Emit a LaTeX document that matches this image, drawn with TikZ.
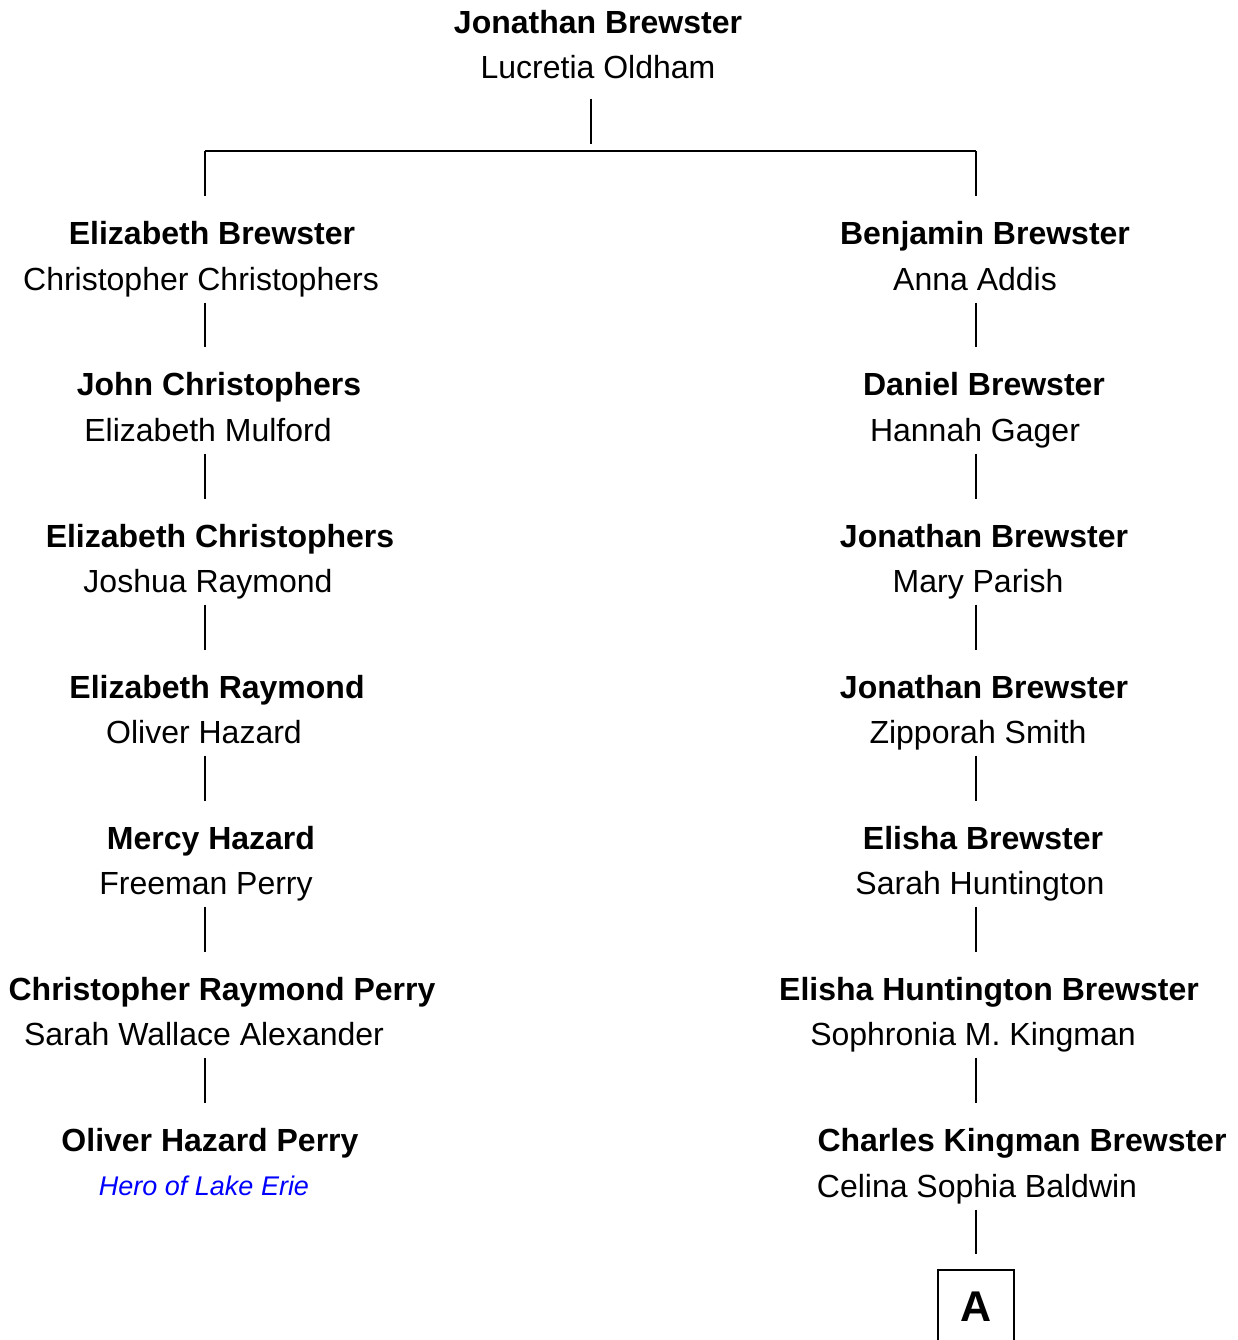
\documentclass[tikz,border=0pt]{standalone}
\usepackage{fontspec}
\setmainfont{Liberation Sans}
\usetikzlibrary{positioning}

\begin{document}
\begin{tikzpicture}[x=1pt,y=-1pt,
      every node/.style={inner sep=0pt,text height=23pt,text depth=0pt,
        font=\fontsize{32}{38}\selectfont},
      kin/.style={font=\fontsize{32}{38}\selectfont\bfseries},
      note/.style={font=\fontsize{27}{32}\selectfont\itshape,text=blue,text height=19pt},
      link/.style={line width=1.5pt,shorten <=12pt,shorten >=25pt}]
      \clip (0,0) rectangle (1238,1340);
      % top couple
      \node[kin] (k_0) at (598,22) {Jonathan Brewster};
      \node      (s_0) at (598,67) {Lucretia Oldham};
      \coordinate (mid)  at (591,151);
      \coordinate (lcol) at (205,151);
      \coordinate (rcol) at (976,151);
      % left line
      \node[kin] (l_1)  at (212,233)  {Elizabeth Brewster};
      \node      (ls_1) at (201,279)  {Christopher Christophers};
      \node[kin] (l_2)  at (219,384)  {John Christophers};
      \node      (ls_2) at (208,430)  {Elizabeth Mulford};
      \node[kin] (l_3)  at (220,536)  {Elizabeth Christophers};
      \node      (ls_3) at (208,581)  {Joshua Raymond};
      \node[kin] (l_4)  at (217,687)  {Elizabeth Raymond};
      \node      (ls_4) at (204,732)  {Oliver Hazard};
      \node[kin] (l_5)  at (211,838)  {Mercy Hazard};
      \node      (ls_5) at (206,883)  {Freeman Perry};
      \node[kin] (l_6)  at (222,989)  {Christopher Raymond Perry};
      \node      (ls_6) at (204,1034) {Sarah Wallace Alexander};
      \node[kin] (l_7)  at (210,1140) {Oliver Hazard Perry};
      \node[note] (ln_7) at (204,1186) {Hero of Lake Erie};
      % right line
      \node[kin] (r_1)  at (985,233)  {Benjamin Brewster};
      \node      (rs_1) at (975,279)  {Anna Addis};
      \node[kin] (r_2)  at (984,384)  {Daniel Brewster};
      \node      (rs_2) at (975,430)  {Hannah Gager};
      \node[kin] (r_3)  at (984,536)  {Jonathan Brewster};
      \node      (rs_3) at (978,581)  {Mary Parish};
      \node[kin] (r_4)  at (984,687)  {Jonathan Brewster};
      \node      (rs_4) at (978,732)  {Zipporah Smith};
      \node[kin] (r_5)  at (983,838)  {Elisha Brewster};
      \node      (rs_5) at (980,883)  {Sarah Huntington};
      \node[kin] (r_6)  at (989,989)  {Elisha Huntington Brewster};
      \node      (rs_6) at (973,1034) {Sophronia M. Kingman};
      \node[kin] (r_7)  at (1022,1140) {Charles Kingman Brewster};
      \node      (rs_7) at (977,1186) {Celina Sophia Baldwin};
      \node[draw,line width=1.5pt,minimum width=76pt,minimum height=71pt,
        text height=31pt,font=\fontsize{43}{50}\selectfont\bfseries]
        (a) at (976,1305.5) {A};
      % connectors
      \draw[line width=1.5pt,shorten <=20pt,shorten >=7pt] (s_0.south -| mid) -- (mid);
      \draw[line width=1.5pt] (lcol) -- (rcol);
      \draw[link,shorten <=0pt] (lcol) -- (l_1.north -| lcol);
      \draw[link,shorten <=0pt] (rcol) -- (r_1.north -| rcol);
      \foreach \i/\j in {1/2,2/3,3/4,4/5,5/6,6/7} {
        \draw[link] (ls_\i.south -| lcol) -- (l_\j.north -| lcol);
        \draw[link] (rs_\i.south -| rcol) -- (r_\j.north -| rcol);
      }
      \draw[link,shorten >=15pt] (rs_7.south -| rcol) -- (a.north);
    \end{tikzpicture}
\end{document}
